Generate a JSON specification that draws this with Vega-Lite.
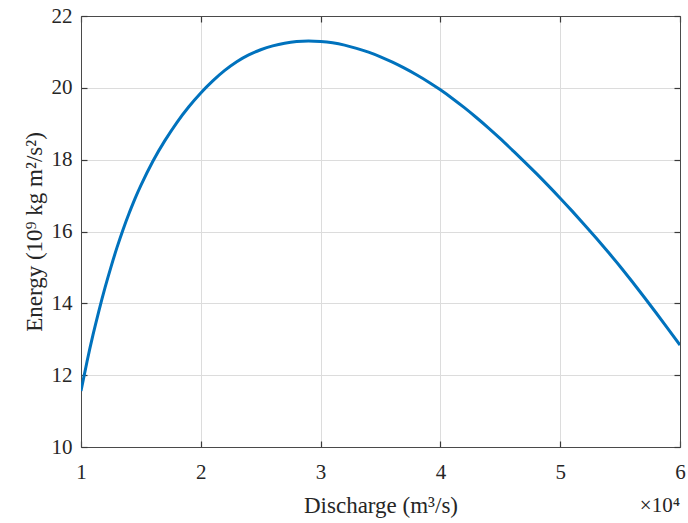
{
  "$schema": "https://vega.github.io/schema/vega-lite/v6.json",
  "width": 599,
  "height": 431,
  "autosize": {"type": "none"},
  "padding": {"left": 81, "top": 16, "right": 8, "bottom": 76},
  "background": "white",
  "config": {
    "font": "Liberation Serif",
    "view": {"stroke": null},
    "axis": {
      "labelFont": "Liberation Serif",
      "titleFont": "Liberation Serif",
      "labelFontSize": 21,
      "titleFontSize": 23,
      "labelColor": "#262626",
      "titleColor": "#262626",
      "titleFontWeight": "normal",
      "domainColor": "#4a4a4a",
      "tickColor": "#3a3a3a",
      "gridColor": "#dcdcdc",
      "tickSize": -6,
      "domainWidth": 1,
      "tickWidth": 1.2,
      "labelFlush": false
    }
  },
  "data": {
    "values": [
      {"q": 1.0, "e": 11.56}, {"q": 1.05, "e": 12.375}, {"q": 1.1, "e": 13.12},
      {"q": 1.15, "e": 13.8}, {"q": 1.2, "e": 14.43}, {"q": 1.25, "e": 15.01},
      {"q": 1.3, "e": 15.55}, {"q": 1.35, "e": 16.045}, {"q": 1.4, "e": 16.495},
      {"q": 1.45, "e": 16.908}, {"q": 1.5, "e": 17.286}, {"q": 1.6, "e": 17.954},
      {"q": 1.7, "e": 18.529}, {"q": 1.8, "e": 19.034}, {"q": 1.9, "e": 19.474},
      {"q": 2.0, "e": 19.859}, {"q": 2.1, "e": 20.194}, {"q": 2.2, "e": 20.484},
      {"q": 2.3, "e": 20.726}, {"q": 2.4, "e": 20.916}, {"q": 2.5, "e": 21.061},
      {"q": 2.6, "e": 21.169}, {"q": 2.7, "e": 21.244}, {"q": 2.8, "e": 21.289},
      {"q": 2.9, "e": 21.304}, {"q": 3.0, "e": 21.29}, {"q": 3.1, "e": 21.254},
      {"q": 3.2, "e": 21.19}, {"q": 3.3, "e": 21.1}, {"q": 3.4, "e": 20.994},
      {"q": 3.5, "e": 20.864}, {"q": 3.6, "e": 20.714}, {"q": 3.7, "e": 20.547},
      {"q": 3.8, "e": 20.364}, {"q": 3.9, "e": 20.164}, {"q": 4.0, "e": 19.944},
      {"q": 4.1, "e": 19.704}, {"q": 4.2, "e": 19.447}, {"q": 4.3, "e": 19.174},
      {"q": 4.4, "e": 18.887}, {"q": 4.5, "e": 18.584}, {"q": 4.6, "e": 18.267},
      {"q": 4.7, "e": 17.947}, {"q": 4.8, "e": 17.617}, {"q": 4.9, "e": 17.277},
      {"q": 5.0, "e": 16.927}, {"q": 5.1, "e": 16.567}, {"q": 5.2, "e": 16.197},
      {"q": 5.3, "e": 15.817}, {"q": 5.4, "e": 15.427}, {"q": 5.5, "e": 15.027},
      {"q": 5.6, "e": 14.607}, {"q": 5.7, "e": 14.177}, {"q": 5.8, "e": 13.737},
      {"q": 5.9, "e": 13.289}, {"q": 6.0, "e": 12.837}
    ]
  },
  "layer": [
    {
      "mark": {"type": "line", "color": "#0072BD", "strokeWidth": 3, "interpolate": "natural", "clip": true},
      "encoding": {
        "x": {
          "field": "q", "type": "quantitative",
          "scale": {"domain": [1, 6], "nice": false, "zero": false},
          "axis": {"orient": "bottom", "values": [1, 2, 3, 4, 5, 6], "grid": true, "labelPadding": 20, "title": "Discharge (m³/s)", "titlePadding": 12}
        },
        "y": {
          "field": "e", "type": "quantitative",
          "scale": {"domain": [10, 22], "nice": false, "zero": false},
          "axis": {"orient": "left", "values": [10, 12, 14, 16, 18, 20, 22], "grid": true, "labelPadding": 15, "title": "Energy (10⁹ kg m²/s²)", "titlePadding": 5}
        }
      }
    },
    {
      "mark": {"type": "line", "strokeOpacity": 0},
      "encoding": {
        "x": {
          "field": "q", "type": "quantitative",
          "axis": {"orient": "top", "values": [1, 2, 3, 4, 5, 6], "grid": false, "labels": false, "title": null}
        },
        "y": {
          "field": "e", "type": "quantitative",
          "axis": {"orient": "right", "values": [10, 12, 14, 16, 18, 20, 22], "grid": false, "labels": false, "title": null}
        }
      }
    },
    {
      "data": {"values": [{"q": 6, "e": 10, "label": "×10⁴"}]},
      "mark": {"type": "text", "align": "right", "baseline": "alphabetic", "dy": 65, "fontSize": 21, "font": "Liberation Serif", "color": "#262626"},
      "encoding": {
        "x": {"field": "q", "type": "quantitative", "axis": null},
        "y": {"field": "e", "type": "quantitative", "axis": null},
        "text": {"field": "label"}
      }
    }
  ],
  "resolve": {"axis": {"x": "independent", "y": "independent"}}
}
